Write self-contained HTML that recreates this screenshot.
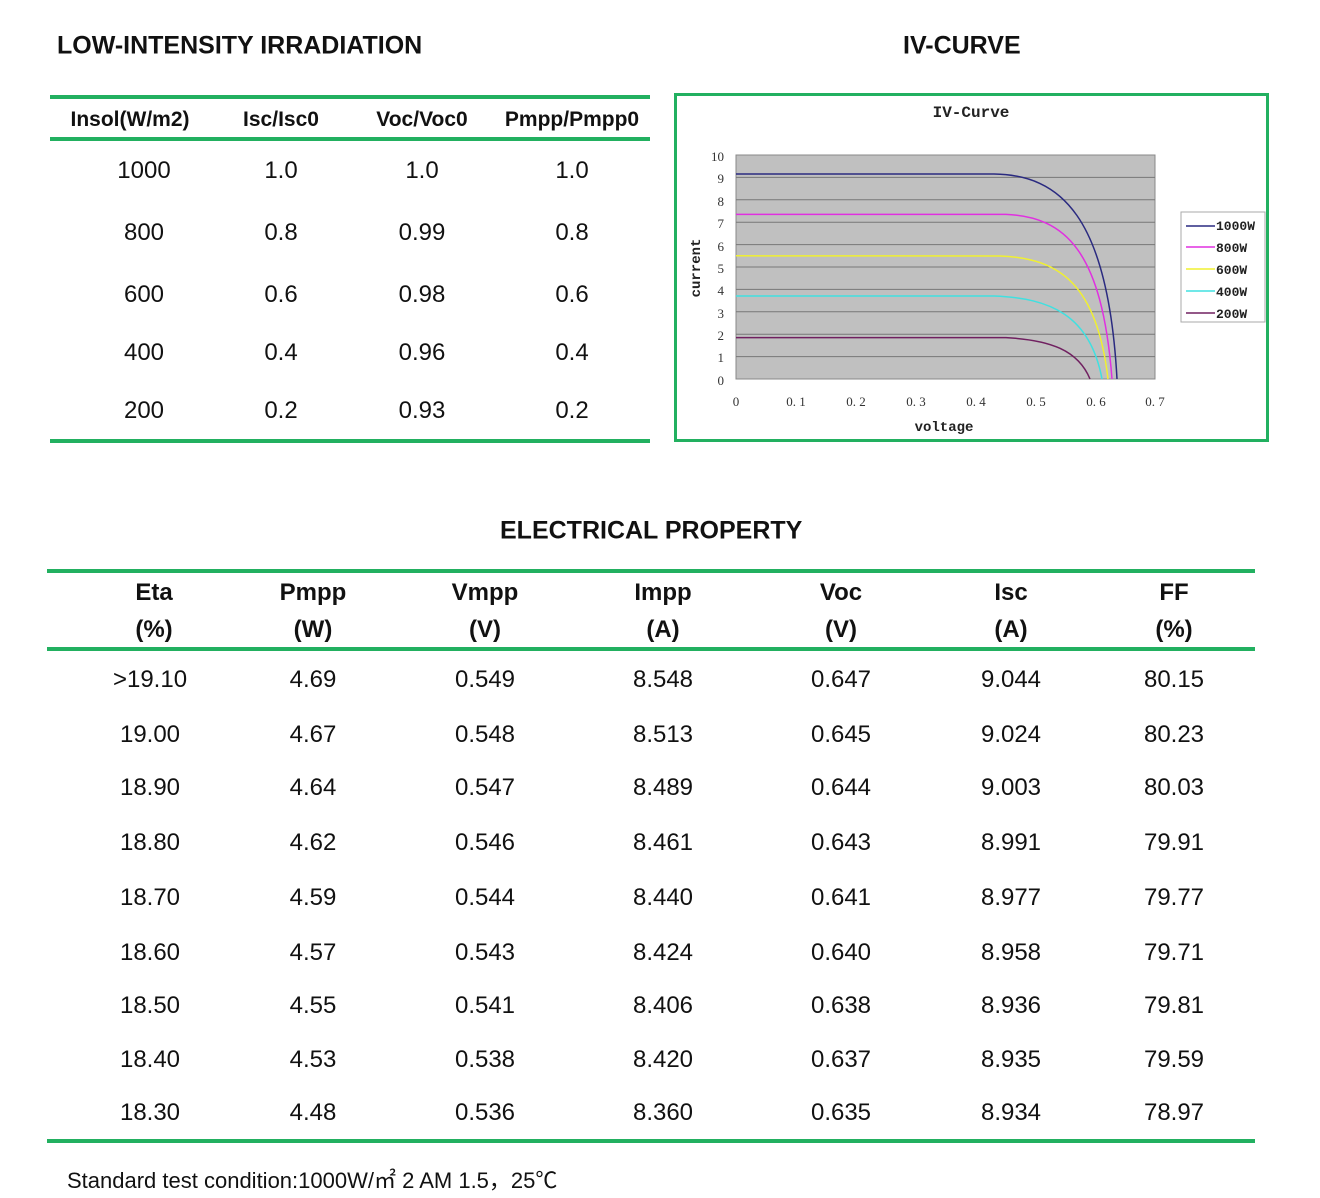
<!DOCTYPE html>
<html><head><meta charset="utf-8"><style>
body{margin:0;width:1320px;height:1198px;background:#fff;position:relative;overflow:hidden;font-family:"Liberation Sans",Arial,sans-serif;color:#111}
.t{position:absolute;white-space:nowrap;transform:translate(-50%,-50%)}
.h{font-weight:bold;font-size:21px}
.d{font-size:24px}
.line{position:absolute;background:#22b060;height:4px}
.ti{position:absolute;font-weight:bold;font-size:25px;white-space:nowrap;transform:translateY(-50%)}
</style></head><body>
<div class="ti" style="left:57px;top:46px">LOW-INTENSITY IRRADIATION</div>
<div class="ti" style="left:903px;top:46px">IV-CURVE</div>
<div class="ti" style="left:500px;top:531px">ELECTRICAL PROPERTY</div>

<div class="line" style="left:50px;top:95px;width:600px"></div>
<div class="line" style="left:50px;top:137px;width:600px"></div>
<div class="line" style="left:50px;top:439px;width:600px"></div>
<div class="t h" style="left:130px;top:120px">Insol(W/m2)</div>
<div class="t h" style="left:281px;top:120px">Isc/Isc0</div>
<div class="t h" style="left:422px;top:120px">Voc/Voc0</div>
<div class="t h" style="left:572px;top:120px">Pmpp/Pmpp0</div>

<div class="t d" style="left:144px;top:171px">1000</div><div class="t d" style="left:281px;top:171px">1.0</div><div class="t d" style="left:422px;top:171px">1.0</div><div class="t d" style="left:572px;top:171px">1.0</div>
<div class="t d" style="left:144px;top:233px">800</div><div class="t d" style="left:281px;top:233px">0.8</div><div class="t d" style="left:422px;top:233px">0.99</div><div class="t d" style="left:572px;top:233px">0.8</div>
<div class="t d" style="left:144px;top:295px">600</div><div class="t d" style="left:281px;top:295px">0.6</div><div class="t d" style="left:422px;top:295px">0.98</div><div class="t d" style="left:572px;top:295px">0.6</div>
<div class="t d" style="left:144px;top:353px">400</div><div class="t d" style="left:281px;top:353px">0.4</div><div class="t d" style="left:422px;top:353px">0.96</div><div class="t d" style="left:572px;top:353px">0.4</div>
<div class="t d" style="left:144px;top:411px">200</div><div class="t d" style="left:281px;top:411px">0.2</div><div class="t d" style="left:422px;top:411px">0.93</div><div class="t d" style="left:572px;top:411px">0.2</div>

<svg style="position:absolute;left:0;top:0" width="1320" height="460" font-family="'Liberation Serif',serif">
<rect x="675.5" y="94.5" width="592" height="346" fill="#fff" stroke="#22b060" stroke-width="3"/>
<text x="971" y="117" text-anchor="middle" font-size="16" font-family="'Liberation Mono',monospace" font-weight="bold" fill="#222">IV-Curve</text>
<rect x="736" y="155" width="419" height="224" fill="#c0c0c0" stroke="#888"/>
<g stroke="#777" stroke-width="1">
<line x1="736" x2="1155" y1="177.4" y2="177.4"/><line x1="736" x2="1155" y1="199.8" y2="199.8"/><line x1="736" x2="1155" y1="222.2" y2="222.2"/><line x1="736" x2="1155" y1="244.6" y2="244.6"/><line x1="736" x2="1155" y1="267" y2="267"/><line x1="736" x2="1155" y1="289.4" y2="289.4"/><line x1="736" x2="1155" y1="311.8" y2="311.8"/><line x1="736" x2="1155" y1="334.2" y2="334.2"/><line x1="736" x2="1155" y1="356.6" y2="356.6"/>
</g>
<g fill="none" stroke-width="1.5">
<path d="M736 174 L994 174 C1060 175 1108 215 1117 379" stroke="#2a2a80"/>
<path d="M736 214.4 L1006 214.4 C1065 217 1102 250 1112 379" stroke="#e030e0"/>
<path d="M736 255.8 L1000 256 C1060 258 1097 285 1108 379" stroke="#f0f030"/>
<path d="M736 296 L994 296 C1050 298 1090 315 1102 379" stroke="#40e0e0"/>
<path d="M736 337.6 L1006 337.6 C1050 340 1078 350 1090 379" stroke="#702060"/>
</g>
<g font-size="13" fill="#333" text-anchor="end">
<text x="724" y="161">10</text><text x="724" y="183">9</text><text x="724" y="206">8</text><text x="724" y="228">7</text><text x="724" y="251">6</text><text x="724" y="273">5</text><text x="724" y="295">4</text><text x="724" y="318">3</text><text x="724" y="340">2</text><text x="724" y="362">1</text><text x="724" y="385">0</text>
</g>
<g font-size="13" fill="#333" text-anchor="middle">
<text x="736" y="406">0</text><text x="796" y="406">0. 1</text><text x="856" y="406">0. 2</text><text x="916" y="406">0. 3</text><text x="976" y="406">0. 4</text><text x="1036" y="406">0. 5</text><text x="1096" y="406">0. 6</text><text x="1155" y="406">0. 7</text>
</g>
<text x="944" y="431" text-anchor="middle" font-size="14" font-weight="bold" font-family="'Liberation Mono',monospace" fill="#222">voltage</text>
<text transform="translate(700,268) rotate(-90)" text-anchor="middle" font-size="14" font-weight="bold" font-family="'Liberation Mono',monospace" fill="#222">current</text>
<rect x="1181" y="212" width="84" height="110" fill="#fff" stroke="#aaa"/>
<g stroke-width="1.5">
<line x1="1186" x2="1215" y1="226" y2="226" stroke="#2a2a80"/>
<line x1="1186" x2="1215" y1="247" y2="247" stroke="#e030e0"/>
<line x1="1186" x2="1215" y1="269" y2="269" stroke="#f0f030"/>
<line x1="1186" x2="1215" y1="291" y2="291" stroke="#40e0e0"/>
<line x1="1186" x2="1215" y1="313" y2="313" stroke="#702060"/>
</g>
<g font-size="13" font-weight="bold" fill="#222" font-family="'Liberation Mono',monospace">
<text x="1216" y="230">1000W</text><text x="1216" y="252">800W</text><text x="1216" y="274">600W</text><text x="1216" y="296">400W</text><text x="1216" y="318">200W</text>
</g>
</svg>

<div class="line" style="left:47px;top:569px;width:1208px"></div>
<div class="line" style="left:47px;top:647px;width:1208px"></div>
<div class="line" style="left:47px;top:1139px;width:1208px"></div>

<div class="t d" style="left:154px;top:593px;font-weight:bold">Eta</div><div class="t d" style="left:154px;top:630px;font-weight:bold">(%)</div>
<div class="t d" style="left:313px;top:593px;font-weight:bold">Pmpp</div><div class="t d" style="left:313px;top:630px;font-weight:bold">(W)</div>
<div class="t d" style="left:485px;top:593px;font-weight:bold">Vmpp</div><div class="t d" style="left:485px;top:630px;font-weight:bold">(V)</div>
<div class="t d" style="left:663px;top:593px;font-weight:bold">Impp</div><div class="t d" style="left:663px;top:630px;font-weight:bold">(A)</div>
<div class="t d" style="left:841px;top:593px;font-weight:bold">Voc</div><div class="t d" style="left:841px;top:630px;font-weight:bold">(V)</div>
<div class="t d" style="left:1011px;top:593px;font-weight:bold">Isc</div><div class="t d" style="left:1011px;top:630px;font-weight:bold">(A)</div>
<div class="t d" style="left:1174px;top:593px;font-weight:bold">FF</div><div class="t d" style="left:1174px;top:630px;font-weight:bold">(%)</div>

<div class="t d" style="left:150px;top:680px">&gt;19.10</div><div class="t d" style="left:313px;top:680px">4.69</div><div class="t d" style="left:485px;top:680px">0.549</div><div class="t d" style="left:663px;top:680px">8.548</div><div class="t d" style="left:841px;top:680px">0.647</div><div class="t d" style="left:1011px;top:680px">9.044</div><div class="t d" style="left:1174px;top:680px">80.15</div>
<div class="t d" style="left:150px;top:735px">19.00</div><div class="t d" style="left:313px;top:735px">4.67</div><div class="t d" style="left:485px;top:735px">0.548</div><div class="t d" style="left:663px;top:735px">8.513</div><div class="t d" style="left:841px;top:735px">0.645</div><div class="t d" style="left:1011px;top:735px">9.024</div><div class="t d" style="left:1174px;top:735px">80.23</div>
<div class="t d" style="left:150px;top:788px">18.90</div><div class="t d" style="left:313px;top:788px">4.64</div><div class="t d" style="left:485px;top:788px">0.547</div><div class="t d" style="left:663px;top:788px">8.489</div><div class="t d" style="left:841px;top:788px">0.644</div><div class="t d" style="left:1011px;top:788px">9.003</div><div class="t d" style="left:1174px;top:788px">80.03</div>
<div class="t d" style="left:150px;top:843px">18.80</div><div class="t d" style="left:313px;top:843px">4.62</div><div class="t d" style="left:485px;top:843px">0.546</div><div class="t d" style="left:663px;top:843px">8.461</div><div class="t d" style="left:841px;top:843px">0.643</div><div class="t d" style="left:1011px;top:843px">8.991</div><div class="t d" style="left:1174px;top:843px">79.91</div>
<div class="t d" style="left:150px;top:898px">18.70</div><div class="t d" style="left:313px;top:898px">4.59</div><div class="t d" style="left:485px;top:898px">0.544</div><div class="t d" style="left:663px;top:898px">8.440</div><div class="t d" style="left:841px;top:898px">0.641</div><div class="t d" style="left:1011px;top:898px">8.977</div><div class="t d" style="left:1174px;top:898px">79.77</div>
<div class="t d" style="left:150px;top:953px">18.60</div><div class="t d" style="left:313px;top:953px">4.57</div><div class="t d" style="left:485px;top:953px">0.543</div><div class="t d" style="left:663px;top:953px">8.424</div><div class="t d" style="left:841px;top:953px">0.640</div><div class="t d" style="left:1011px;top:953px">8.958</div><div class="t d" style="left:1174px;top:953px">79.71</div>
<div class="t d" style="left:150px;top:1006px">18.50</div><div class="t d" style="left:313px;top:1006px">4.55</div><div class="t d" style="left:485px;top:1006px">0.541</div><div class="t d" style="left:663px;top:1006px">8.406</div><div class="t d" style="left:841px;top:1006px">0.638</div><div class="t d" style="left:1011px;top:1006px">8.936</div><div class="t d" style="left:1174px;top:1006px">79.81</div>
<div class="t d" style="left:150px;top:1060px">18.40</div><div class="t d" style="left:313px;top:1060px">4.53</div><div class="t d" style="left:485px;top:1060px">0.538</div><div class="t d" style="left:663px;top:1060px">8.420</div><div class="t d" style="left:841px;top:1060px">0.637</div><div class="t d" style="left:1011px;top:1060px">8.935</div><div class="t d" style="left:1174px;top:1060px">79.59</div>
<div class="t d" style="left:150px;top:1113px">18.30</div><div class="t d" style="left:313px;top:1113px">4.48</div><div class="t d" style="left:485px;top:1113px">0.536</div><div class="t d" style="left:663px;top:1113px">8.360</div><div class="t d" style="left:841px;top:1113px">0.635</div><div class="t d" style="left:1011px;top:1113px">8.934</div><div class="t d" style="left:1174px;top:1113px">78.97</div>

<div style="position:absolute;left:67px;top:1163px;font-size:22px;white-space:nowrap;font-family:'Liberation Sans','Noto Sans CJK SC',sans-serif">Standard test condition:1000W/㎡ 2 AM 1.5，25℃</div>
</body></html>
